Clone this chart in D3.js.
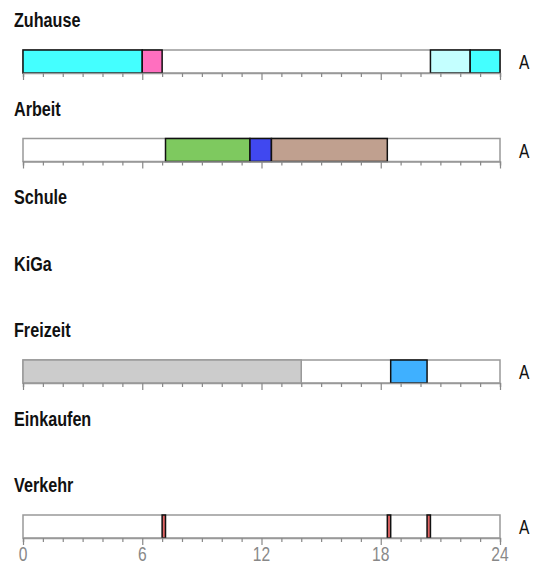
<!DOCTYPE html>
<html>
<head>
<meta charset="utf-8">
<script src="https://cdn.jsdelivr.net/npm/d3@7"></script>
<style>
  html, body { margin: 0; padding: 0; background: #fff; }
  svg { display: block; }
</style>
</head>
<body>
<script>
// ---- Data ----
const categories = ["Zuhause", "Arbeit", "Schule", "KiGa", "Freizeit", "Einkaufen", "Verkehr"];
const hasBar = [true, true, false, false, true, false, true];
const barSideLabel = "A";

// segments (hours)
const segCategory = ["Zuhause", "Zuhause", "Zuhause", "Zuhause",
                     "Arbeit", "Arbeit", "Arbeit",
                     "Freizeit", "Freizeit",
                     "Verkehr", "Verkehr", "Verkehr"];
const segStart = [0, 6, 20.5, 22.5,
                  7.17, 11.42, 12.5,
                  0, 18.5,
                  7.0, 18.33, 20.33];
const segEnd   = [6, 7, 22.5, 24,
                  11.42, 12.5, 18.33,
                  14, 20.33,
                  7.17, 18.5, 20.5];
const segColor = ["#44ffff", "#ff6fbf", "#c4ffff", "#44ffff",
                  "#7ec95f", "#4048f0", "#c0a08f",
                  "#cccccc", "#3fb0ff",
                  "#e06464", "#e06464", "#e06464"];
const segOutlined = [true, true, true, true,
                     true, true, true,
                     false, true,
                     true, true, true];

const tickValues = [0, 6, 12, 18, 24];
const minorTicks = d3.range(0, 25, 1);

// ---- Layout ----
const W = 538, H = 566;
const x = d3.scaleLinear().domain([0, 24]).range([23, 500]);
const barH = 23;
const firstBaseline = 27;
const rowWithBar = 88.5, rowNoBar = 66.5;

const baselines = [];
let yy = firstBaseline;
categories.forEach((c, i) => { baselines.push(yy); yy += hasBar[i] ? rowWithBar : rowNoBar; });
const baseOf = d3.scaleOrdinal().domain(categories).range(baselines);

const svg = d3.select("body").append("svg").attr("width", W).attr("height", H);

// category labels
svg.selectAll("text.cat").data(categories).join("text")
  .attr("class", "cat")
  .attr("transform", d => `translate(14,${baseOf(d)}) scale(0.77,1)`)
  .attr("font-family", "Liberation Sans, Arial, sans-serif")
  .attr("font-weight", "bold")
  .attr("font-size", 21)
  .attr("fill", "#111")
  .text(d => d);

const barCats = categories.filter((c, i) => hasBar[i]);

barCats.forEach(cat => {
  const top = baseOf(cat) + 23;
  const g = svg.append("g");
  // frame
  g.append("rect")
    .attr("x", x(0)).attr("y", top)
    .attr("width", x(24) - x(0)).attr("height", barH)
    .attr("fill", "#fff").attr("stroke", "#999").attr("stroke-width", 1.5);

  // segments (unoutlined first, then outlined)
  const segs = segCategory.map((c, i) => i).filter(i => segCategory[i] === cat)
    .sort((a, b) => (segOutlined[a] ? 1 : 0) - (segOutlined[b] ? 1 : 0));
  g.selectAll("rect.seg").data(segs).join("rect")
    .attr("class", "seg")
    .attr("x", i => x(segStart[i]))
    .attr("y", top)
    .attr("width", i => x(segEnd[i]) - x(segStart[i]))
    .attr("height", barH)
    .attr("fill", i => segColor[i])
    .attr("stroke", i => segOutlined[i] ? "#111" : "#999")
    .attr("stroke-width", 1.5);

  // ticks
  const axis = d3.axisBottom(x).tickValues(minorTicks).tickSize(4).tickFormat("");
  const ag = g.append("g").attr("transform", `translate(0,${top + barH})`).call(axis);
  ag.select(".domain").attr("stroke", "#999").attr("stroke-width", 1.5);
  ag.selectAll(".tick line").attr("stroke", "#888").attr("stroke-width", 1.2)
    .attr("y2", d => tickValues.includes(d) ? 7 : 4);

  // side label
  g.append("text")
    .attr("transform", `translate(519,${top + barH - 4}) scale(0.74,1)`)
    .attr("font-family", "Liberation Sans, Arial, sans-serif")
    .attr("font-size", 21)
    .attr("fill", "#111")
    .text(barSideLabel);
});

// tick labels under last bar
const lastCat = barCats[barCats.length - 1];
const lastBottom = baseOf(lastCat) + 23 + barH;
svg.selectAll("text.tl").data(tickValues).join("text")
  .attr("class", "tl")
  .attr("transform", d => `translate(${x(d)},${lastBottom + 23}) scale(0.78,1)`)
  .attr("text-anchor", "middle")
  .attr("font-family", "Liberation Sans, Arial, sans-serif")
  .attr("font-size", 20)
  .attr("fill", "#888")
  .text(d => d);
</script>
</body>
</html>
